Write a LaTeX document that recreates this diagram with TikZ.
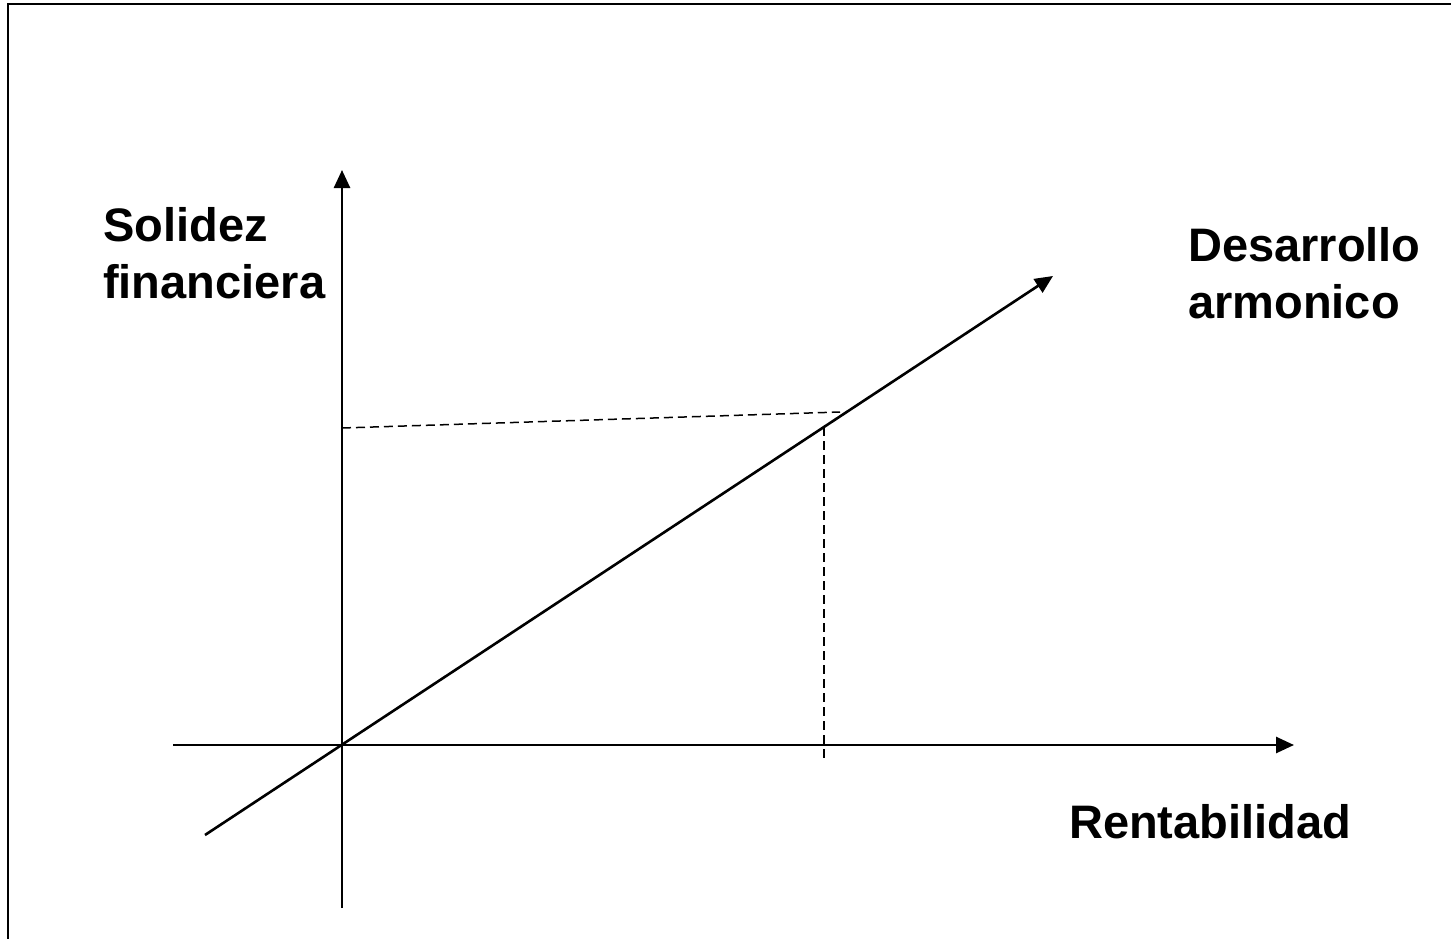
\documentclass[tikz,border=0pt]{standalone}
\usepackage{fontspec}
\setmainfont{Liberation Sans}
\usetikzlibrary{arrows.meta}
\begin{document}
\begin{tikzpicture}[x=1pt,y=-1pt,
  axis/.style={line width=2.6pt,-{Triangle[length=18pt,width=16pt]}},
  guide/.style={line width=1.5pt,dash pattern=on 9pt off 5pt},
  lbl/.style={font=\bfseries\fontsize{47}{57}\selectfont,inner sep=0pt,align=left,anchor=base west}]
\useasboundingbox (0,0) rectangle (1451,939);
\fill[white] (0,0) rectangle (1451,939);
\draw[line width=2.5pt] (8,1000) -- (8,4) -- (1500,4);
% coordinates
\coordinate (O) at (342,745);
\coordinate (Ybot) at (342,908);
\coordinate (Ytop) at (342,170);
\coordinate (Xleft) at (173,745);
\coordinate (Xright) at (1294,745);
\coordinate (Dstart) at (205,835);
\coordinate (Dend) at (1053,276);
\coordinate (H0) at (342,428);
\coordinate (H1) at (840,412);
\coordinate (V0) at (824,427);
\coordinate (V1) at (824,758);
% axes
\draw[axis] (Ybot) -- (Ytop);
\draw[axis] (Xleft) -- (Xright);
\draw[axis] (Dstart) -- (Dend);
% guides
\draw[guide] (H0) -- (H1);
\draw[guide] (V0) -- (V1);
% labels
\node[lbl] (sol) at (103,298) {Solidez\\financiera};
\node[lbl] (des) at (1188,318) {Desarrollo\\armonico};
\node[lbl] (ren) at (1069,838) {Rentabilidad};
\end{tikzpicture}
\end{document}
